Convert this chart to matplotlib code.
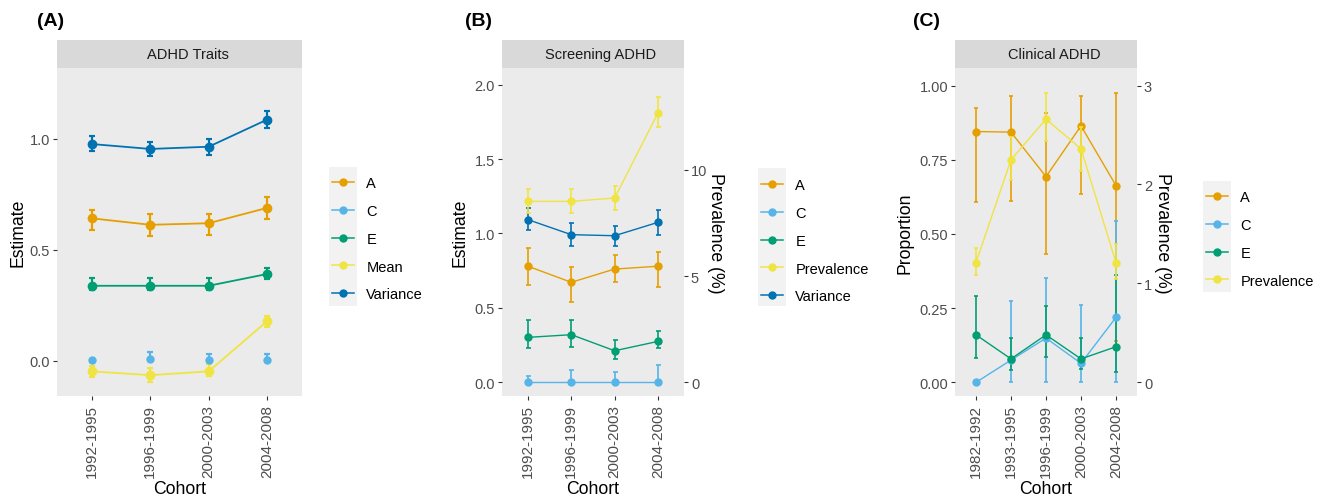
import matplotlib
matplotlib.use("Agg")
import matplotlib.pyplot as plt
from matplotlib.lines import Line2D
from matplotlib.patches import Rectangle

plt.rcParams['font.family'] = ['Liberation Sans', 'DejaVu Sans']

W, H = 1325, 502

# colours (Okabe-Ito)
COL_A = "#E69F00"
COL_C = "#56B4E9"
COL_E = "#009E73"
COL_Y = "#F0E442"
COL_V = "#0072B2"

# ---------------- data ----------------
cohorts_ab = ["1992-1995", "1996-1999", "2000-2003", "2004-2008"]
cohorts_c = ["1982-1992", "1993-1995", "1996-1999", "2000-2003", "2004-2008"]

# (A) ADHD traits
trait_a = [0.642, 0.613, 0.620, 0.689]
trait_a_lo = [0.591, 0.564, 0.568, 0.641]
trait_a_hi = [0.680, 0.662, 0.662, 0.738]
trait_c = [0.005, 0.008, 0.005, 0.005]
trait_c_lo = [0.0, 0.0, 0.0, 0.0]
trait_c_hi = [0.010, 0.041, 0.030, 0.030]
trait_e = [0.338, 0.338, 0.338, 0.391]
trait_e_lo = [0.320, 0.320, 0.320, 0.369]
trait_e_hi = [0.372, 0.372, 0.372, 0.420]
trait_mean = [-0.048, -0.065, -0.048, 0.178]
trait_mean_lo = [-0.075, -0.095, -0.068, 0.150]
trait_mean_hi = [-0.023, -0.034, -0.015, 0.200]
trait_var = [0.977, 0.955, 0.965, 1.087]
trait_var_lo = [0.945, 0.925, 0.928, 1.048]
trait_var_hi = [1.015, 0.988, 0.999, 1.125]

# (B) Screening ADHD
scr_a = [0.780, 0.672, 0.761, 0.780]
scr_a_lo = [0.656, 0.542, 0.672, 0.638]
scr_a_hi = [0.900, 0.773, 0.855, 0.873]
scr_c = [0.0, 0.0, 0.0, 0.0]
scr_c_lo = [0.0, 0.0, 0.0, 0.0]
scr_c_hi = [0.045, 0.085, 0.067, 0.116]
scr_e = [0.302, 0.320, 0.212, 0.275]
scr_e_lo = [0.228, 0.235, 0.157, 0.228]
scr_e_hi = [0.419, 0.419, 0.286, 0.345]
scr_prev = [8.51, 8.51, 8.67, 12.67]          # %
scr_prev_lo = [7.95, 7.95, 8.11, 12.00]
scr_prev_hi = [9.07, 9.07, 9.25, 13.43]
scr_var = [1.093, 0.992, 0.985, 1.075]
scr_var_lo = [1.026, 0.918, 0.918, 0.992]
scr_var_hi = [1.171, 1.068, 1.052, 1.158]

# (C) Clinical ADHD
cli_a = [0.845, 0.843, 0.693, 0.864, 0.663]
cli_a_lo = [0.607, 0.612, 0.432, 0.634, 0.140]
cli_a_hi = [0.924, 0.963, 0.907, 0.964, 0.975]
cli_c = [0.0, 0.075, 0.149, 0.064, 0.219]
cli_c_lo = [0.0, 0.0, 0.0, 0.0, 0.0]
cli_c_hi = [0.0, 0.273, 0.350, 0.261, 0.545]
cli_e = [0.160, 0.079, 0.160, 0.079, 0.120]
cli_e_lo = [0.081, 0.041, 0.086, 0.045, 0.034]
cli_e_hi = [0.292, 0.149, 0.258, 0.149, 0.363]
cli_prev = [1.21, 2.25, 2.66, 2.36, 1.21]      # %
cli_prev_lo = [1.08, 2.04, 2.44, 2.14, 1.04]
cli_prev_hi = [1.36, 2.48, 2.92, 2.58, 1.40]


def fx(px):
    return px / W


def fy(py):
    return 1 - py / H


PANEL_TOP, PANEL_BOT = 69, 397

fig = plt.figure(figsize=(W / 100, H / 100), dpi=100)


def panel(x0, x1, strip_text, tag, tag_x):
    w = x1 - x0
    ax = fig.add_axes([fx(x0), fy(PANEL_BOT), w / W, (PANEL_BOT - PANEL_TOP) / H])
    ax.set_facecolor("#EBEBEB")
    for s in ax.spines.values():
        s.set_visible(False)
    ax.tick_params(length=3, width=0.8, color="#333333", labelcolor="#4D4D4D",
                   labelsize=10.5, pad=2)
    ax.tick_params(axis="x", labelsize=11, labelrotation=90, pad=3)
    st = fig.add_axes([fx(x0), fy(PANEL_TOP), w / W, 28 / H])
    st.set_facecolor("#D9D9D9")
    st.set_xticks([])
    st.set_yticks([])
    for s in st.spines.values():
        s.set_visible(False)
    st.text(0.5 + 8 / w, 0.5, strip_text, ha="center", va="center",
            fontsize=10.5, color="#1A1A1A", transform=st.transAxes)
    fig.text(fx(tag_x), fy(22), tag, fontsize=14, fontweight="bold",
             ha="left", va="center")
    return ax


def series(ax, x, y, lo, hi, color, lw, ms, cap, ls="-"):
    yerr = [[v - l for v, l in zip(y, lo)], [h - v for v, h in zip(y, hi)]]
    ax.errorbar(x, y, yerr=yerr, color=color, lw=lw, ls=ls, marker="o", ms=ms,
                elinewidth=lw * 1.2, capsize=cap, capthick=lw * 1.2)


def legend(labels, colors, key_x, first_y, box):
    handles = [Line2D([], [], color=c, lw=1.1, marker="o", ms=5) for c in colors]
    bx0, by0, bx1, by1 = box
    fig.patches.append(Rectangle((fx(bx0), fy(by1)), (bx1 - bx0) / W, (by1 - by0) / H,
                                 transform=fig.transFigure, facecolor="#F2F2F2",
                                 edgecolor="none", zorder=0))
    fig.legend(handles, labels, loc="upper left",
               bbox_to_anchor=(fx(key_x), fy(first_y)), frameon=False,
               fontsize=10.5, handlelength=1.5, handletextpad=0.85,
               labelspacing=0.95, borderpad=0, borderaxespad=0)


# ---------------- (A) ----------------
axA = panel(57, 302, "ADHD Traits", "(A)", 37)
xa = list(range(len(cohorts_ab)))
series(axA, xa, trait_a, trait_a_lo, trait_a_hi, COL_A, 1.3, 6, 2.5)
series(axA, xa, trait_c, trait_c_lo, trait_c_hi, COL_C, 1.3, 5, 2.5, ls="none")
series(axA, xa, trait_e, trait_e_lo, trait_e_hi, COL_E, 1.3, 6, 2.5)
series(axA, xa, trait_mean, trait_mean_lo, trait_mean_hi, COL_Y, 1.3, 6, 2.5)
series(axA, xa, trait_var, trait_var_lo, trait_var_hi, COL_V, 1.3, 6, 2.5)
axA.set_xlim(-0.6, len(xa) - 0.4)
axA.set_ylim(-0.159, 1.320)
axA.set_yticks([0.0, 0.5, 1.0])
axA.set_yticklabels(["0.0", "0.5", "1.0"])
axA.set_xticks(xa)
axA.set_xticklabels(cohorts_ab)
axA.set_ylabel("Estimate", fontsize=12.7)
axA.yaxis.set_label_coords((26 - 57) / 245, 0.5)
axA.set_xlabel("Cohort", fontsize=12.7)
axA.xaxis.set_label_coords(0.5, -0.255)
legend(["A", "C", "E", "Mean", "Variance"], [COL_A, COL_C, COL_E, COL_Y, COL_V],
       332, 177, (329, 168, 357, 307))

# ---------------- (B) ----------------
axB = panel(502, 684, "Screening ADHD", "(B)", 465)
yl_b = (-0.092, 2.112)
kB = 7.0
axB2 = axB.twinx()
for s in axB2.spines.values():
    s.set_visible(False)
axB2.tick_params(length=3, width=0.8, color="#333333", labelcolor="#4D4D4D",
                 labelsize=10.5, pad=2)
series(axB, xa, scr_a, scr_a_lo, scr_a_hi, COL_A, 1.0, 5, 1.8)
series(axB, xa, scr_c, scr_c_lo, scr_c_hi, COL_C, 1.0, 5, 1.8)
series(axB, xa, scr_e, scr_e_lo, scr_e_hi, COL_E, 1.0, 5, 1.8)
series(axB2, xa, scr_prev, scr_prev_lo, scr_prev_hi, COL_Y, 1.0, 5, 1.8)
series(axB, xa, scr_var, scr_var_lo, scr_var_hi, COL_V, 1.0, 5, 1.8)
axB.set_xlim(-0.6, len(xa) - 0.4)
axB.set_ylim(*yl_b)
axB2.set_ylim(yl_b[0] * kB, yl_b[1] * kB)
axB.set_yticks([0.0, 0.5, 1.0, 1.5, 2.0])
axB.set_yticklabels(["0.0", "0.5", "1.0", "1.5", "2.0"])
axB2.set_yticks([0, 5, 10])
axB.set_xticks(xa)
axB.set_xticklabels(cohorts_ab)
axB.set_ylabel("Estimate", fontsize=12.7)
axB.yaxis.set_label_coords((468 - 502) / 182, 0.5)
axB2.set_ylabel("Prevalence (%)", fontsize=12.7, rotation=270, va="bottom")
axB2.yaxis.set_label_coords((707 - 502) / 182, 0.5)
axB.set_xlabel("Cohort", fontsize=12.7)
axB.xaxis.set_label_coords(0.5, -0.255)
legend(["A", "C", "E", "Prevalence", "Variance"], [COL_A, COL_C, COL_E, COL_Y, COL_V],
       761, 179, (758, 169, 786, 307))

# ---------------- (C) ----------------
axC = panel(955, 1137, "Clinical ADHD", "(C)", 913)
xc = list(range(len(cohorts_c)))
yl_c = (-0.046, 1.059)
kC = 3.0
axC2 = axC.twinx()
for s in axC2.spines.values():
    s.set_visible(False)
axC2.tick_params(length=3, width=0.8, color="#333333", labelcolor="#4D4D4D",
                 labelsize=10.5, pad=2)
series(axC2, xc, cli_prev, cli_prev_lo, cli_prev_hi, COL_Y, 1.0, 5, 1.1)
series(axC, xc, cli_a, cli_a_lo, cli_a_hi, COL_A, 1.0, 5, 1.1)
series(axC, xc, cli_c, cli_c_lo, cli_c_hi, COL_C, 1.0, 5, 1.1)
series(axC, xc, cli_e, cli_e_lo, cli_e_hi, COL_E, 1.0, 5, 1.1)
axC.set_xlim(-0.6, len(xc) - 0.4)
axC.set_ylim(*yl_c)
axC2.set_ylim(yl_c[0] * kC, yl_c[1] * kC)
axC.set_yticks([0.0, 0.25, 0.5, 0.75, 1.0])
axC.set_yticklabels(["0.00", "0.25", "0.50", "0.75", "1.00"])
axC2.set_yticks([0, 1, 2, 3])
axC.set_xticks(xc)
axC.set_xticklabels(cohorts_c)
axC.set_ylabel("Proportion", fontsize=12.7)
axC.yaxis.set_label_coords((914 - 955) / 182, 0.5)
axC2.set_ylabel("Prevalence (%)", fontsize=12.7, rotation=270, va="bottom")
axC2.yaxis.set_label_coords((1154 - 955) / 182, 0.5)
axC.set_xlabel("Cohort", fontsize=12.7)
axC.xaxis.set_label_coords(0.5, -0.255)
legend(["A", "C", "E", "Prevalence"], [COL_A, COL_C, COL_E, COL_Y],
       1206, 191, (1203, 182, 1231, 293))

fig.savefig("out.png", dpi=100)
